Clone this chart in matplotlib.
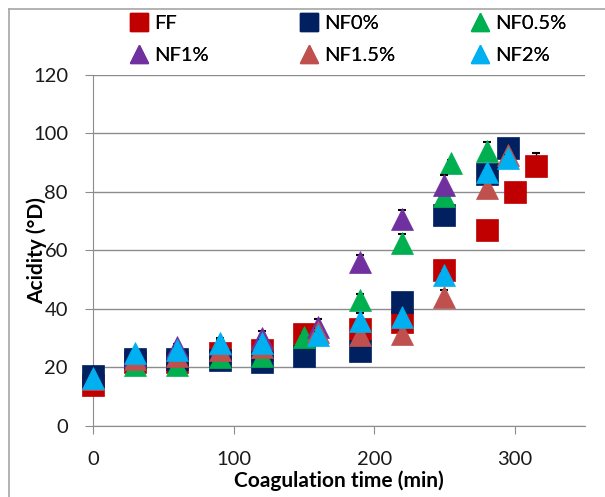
import matplotlib
matplotlib.use("Agg")
import matplotlib.pyplot as plt
from matplotlib.lines import Line2D

plt.rcParams['font.family'] = ['Lato', 'DejaVu Sans']

# coagulation time (min) and acidity (°D) per formulation
time_ff = [0, 30, 60, 90, 120, 150, 190, 220, 250, 280, 300, 315]
acid_ff = [14, 22, 22, 25, 26, 31.5, 33, 35.5, 53.3, 67, 80, 89]
err_ff = [1, 1, 1, 1, 1, 1, 1, 1, 1, 1, 1, 4.5]

time_nf0 = [0, 30, 60, 90, 120, 150, 190, 220, 250, 280, 295]
acid_nf0 = [17, 23, 23, 22.5, 22, 24, 25.5, 42.5, 72, 86, 95]
err_nf0 = [1, 1, 1, 1, 1, 1, 1, 1, 1, 1, 1]

time_nf05 = [0, 30, 60, 90, 120, 150, 190, 220, 250, 255, 280]
acid_nf05 = [16, 21, 21, 23.5, 24, 30.5, 43, 62.5, 78.5, 90, 94]
err_nf05 = [1, 1, 1, 1, 1, 1, 2, 3, 1, 1, 3]

time_nf1 = [0, 30, 60, 90, 120, 160, 190, 220, 250]
acid_nf1 = [16, 24, 27, 28, 30, 34, 56, 70.7, 82.4]
err_nf1 = [1, 1, 1, 2, 2.5, 2.5, 2.5, 3, 3.5]

time_nf15 = [0, 30, 60, 90, 120, 160, 190, 220, 250, 280, 295]
acid_nf15 = [16, 23, 24, 26, 27, 32, 31, 31.5, 44, 81.5, 92.5]
err_nf15 = [1, 1, 1, 1, 1, 1, 1, 1, 2.5, 1, 1]

time_nf2 = [0, 30, 60, 90, 120, 160, 190, 220, 250, 280, 295]
acid_nf2 = [16.5, 25, 26, 28.3, 28.5, 31, 36, 37.3, 51.7, 87, 91.5]
err_nf2 = [1, 1, 1, 1, 1, 1, 2.5, 1, 1, 1, 1]

series = [
    ("FF", time_ff, acid_ff, err_ff, "s", "#C00000"),
    ("NF0%", time_nf0, acid_nf0, err_nf0, "s", "#002060"),
    ("NF0.5%", time_nf05, acid_nf05, err_nf05, "^", "#00B050"),
    ("NF1%", time_nf1, acid_nf1, err_nf1, "^", "#7030A0"),
    ("NF1.5%", time_nf15, acid_nf15, err_nf15, "^", "#C0504D"),
    ("NF2%", time_nf2, acid_nf2, err_nf2, "^", "#00B0F0"),
]

fig = plt.figure(figsize=(6.05, 4.97), dpi=100)
ax = fig.add_axes([0.1537, 0.1429, 0.8133, 0.7062])

for i, (name, t, a, e, m, c) in enumerate(series):
    # plus-only error bars, markers drawn over them
    ax.errorbar(t, a, yerr=[[0] * len(e), e], fmt='none', ecolor='black',
                elinewidth=1, capsize=3, capthick=1.5, zorder=2 + 2 * i)
    ax.plot(t, a, linestyle='none', marker=m, markersize=16, color=c,
            markeredgecolor=c, markeredgewidth=0.5, zorder=3 + 2 * i,
            clip_on=False)

ax.set_xlim(0, 350)
ax.set_ylim(0, 120)
ax.set_xticks([0, 100, 200, 300])
ax.set_yticks(range(0, 121, 20))
ax.grid(axis='y', color='#8c8c8c', linewidth=1)
ax.set_axisbelow(True)
for side in ['top', 'right']:
    ax.spines[side].set_visible(False)
for side in ['left', 'bottom']:
    ax.spines[side].set_color('#8c8c8c')
ax.tick_params(axis='both', direction='out', length=6, color='#8c8c8c',
               labelsize=14.5, labelcolor='#1a1a1a')
ax.tick_params(axis='y', pad=12)
ax.tick_params(axis='x', pad=12)

ax.set_xlabel("Coagulation time (min)", fontsize=15, fontweight='bold', labelpad=2)
ax.set_ylabel("Acidity (°D)", fontsize=15, fontweight='bold', labelpad=-10)

# legend: three columns of two entries each
columns = [(0, 3), (1, 4), (2, 5)]
col_x = [139, 309, 480]
for (top, bottom), cx in zip(columns, col_x):
    handles = []
    for k in (top, bottom):
        name, _, _, _, m, c = series[k]
        handles.append(Line2D([], [], linestyle='none', marker=m, markersize=13,
                              color=c, label=name))
    leg = fig.legend(handles=handles, loc='center left',
                     bbox_to_anchor=((cx - 10) / 605, 1 - 39.5 / 497),
                     frameon=False, fontsize=14.5, handlelength=1.0,
                     handletextpad=0.25, labelspacing=0.7,
                     borderpad=0, borderaxespad=0)
    fig.add_artist(leg)

# chart area border
x0 = 9 / 605
y0 = 1 - 9 / 497
fig.add_artist(Line2D([x0, x0], [0, y0], color='#a6a6a6', linewidth=1.2))
fig.add_artist(Line2D([x0, 1], [y0, y0], color='#a6a6a6', linewidth=1.2))

fig.savefig("out.png", dpi=100)
